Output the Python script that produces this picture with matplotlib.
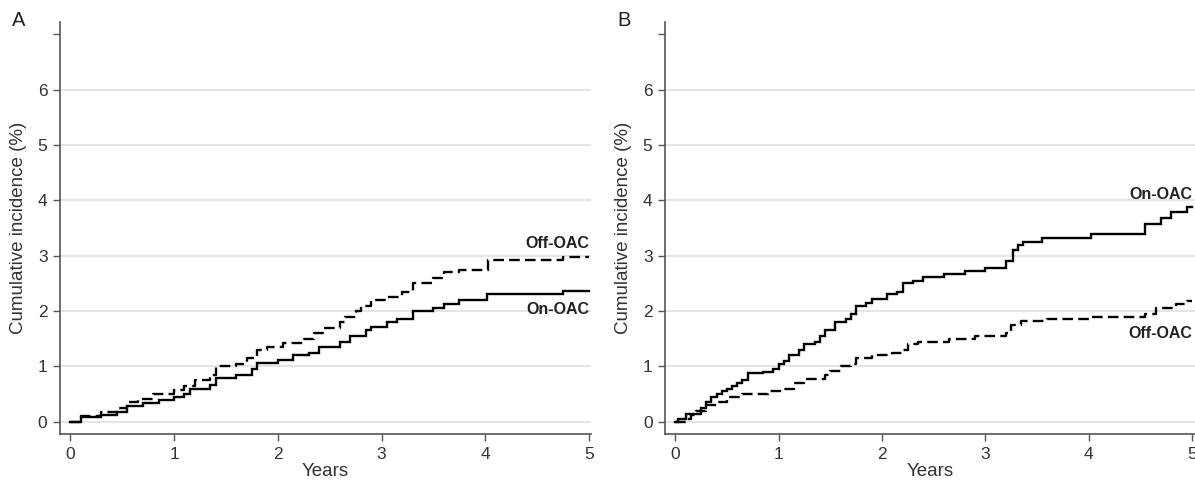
import matplotlib.pyplot as plt
import numpy as np

plt.rcParams['font.family'] = ['Liberation Sans', 'DejaVu Sans']

# Panel A step points (years, cumulative incidence %)
a_on_t = [0, 0.1, 0.3, 0.45, 0.55, 0.7, 0.85, 1.0, 1.1, 1.15, 1.35, 1.4, 1.6, 1.75, 1.8,
          2.0, 2.15, 2.3, 2.4, 2.6, 2.7, 2.85, 2.9, 3.05, 3.15, 3.3, 3.5, 3.6, 3.75, 4.02, 4.75, 5.0]
a_on_y = [0, 0.08, 0.13, 0.18, 0.28, 0.34, 0.39, 0.44, 0.5, 0.6, 0.66, 0.8, 0.85, 0.95, 1.07,
          1.12, 1.2, 1.25, 1.35, 1.45, 1.55, 1.65, 1.72, 1.8, 1.85, 2.0, 2.05, 2.12, 2.2, 2.3, 2.37, 2.37]
a_off_t = [0, 0.1, 0.3, 0.45, 0.55, 0.65, 0.8, 1.0, 1.1, 1.2, 1.35, 1.4, 1.6, 1.7, 1.8, 1.9,
           2.05, 2.25, 2.35, 2.45, 2.6, 2.65, 2.75, 2.8, 2.9, 3.05, 3.2, 3.3, 3.5, 3.6, 3.75, 4.03, 4.75, 5.0]
a_off_y = [0, 0.1, 0.18, 0.25, 0.35, 0.42, 0.5, 0.57, 0.65, 0.75, 0.85, 1.0, 1.05, 1.15, 1.3, 1.35,
           1.43, 1.5, 1.6, 1.7, 1.8, 1.9, 2.0, 2.1, 2.2, 2.25, 2.35, 2.5, 2.6, 2.7, 2.75, 2.92, 2.98, 2.98]

# Panel B step points
b_on_t = [0, 0.03, 0.1, 0.25, 0.3, 0.35, 0.4, 0.45, 0.5, 0.55, 0.6, 0.65, 0.7, 0.85, 0.95, 1.0,
          1.05, 1.1, 1.2, 1.25, 1.35, 1.4, 1.45, 1.55, 1.65, 1.7, 1.75, 1.85, 1.9, 2.05, 2.15, 2.2,
          2.3, 2.4, 2.6, 2.8, 3.0, 3.2, 3.27, 3.32, 3.37, 3.55, 4.02, 4.55, 4.7, 4.8, 4.95, 5.0]
b_on_y = [0, 0.05, 0.15, 0.25, 0.35, 0.45, 0.5, 0.55, 0.6, 0.65, 0.7, 0.75, 0.88, 0.9, 0.95, 1.05,
          1.1, 1.2, 1.3, 1.4, 1.45, 1.55, 1.65, 1.8, 1.85, 1.95, 2.1, 2.15, 2.22, 2.3, 2.35, 2.5,
          2.55, 2.62, 2.67, 2.72, 2.78, 2.9, 3.1, 3.2, 3.25, 3.32, 3.4, 3.58, 3.68, 3.78, 3.88, 3.88]
b_off_t = [0, 0.1, 0.15, 0.2, 0.3, 0.4, 0.5, 0.65, 0.9, 1.05, 1.15, 1.25, 1.45, 1.5, 1.6, 1.7,
           1.75, 1.9, 2.1, 2.2, 2.25, 2.35, 2.65, 2.9, 3.2, 3.25, 3.35, 3.6, 4.0, 4.55, 4.65, 4.85, 4.95, 5.0]
b_off_y = [0, 0.05, 0.12, 0.2, 0.3, 0.35, 0.45, 0.5, 0.55, 0.6, 0.7, 0.78, 0.85, 0.92, 1.0, 1.05,
           1.15, 1.2, 1.25, 1.3, 1.4, 1.45, 1.5, 1.55, 1.6, 1.75, 1.82, 1.86, 1.9, 1.95, 2.05, 2.12, 2.18, 2.18]

panels = [
    ('A', a_on_t, a_on_y, a_off_t, a_off_y, ('Off-OAC', 3.22), ('On-OAC', 2.03)),
    ('B', b_on_t, b_on_y, b_off_t, b_off_y, ('On-OAC', 4.1), ('Off-OAC', 1.6)),
]

fig = plt.figure(figsize=(11.95, 4.86), dpi=100)
W, H = 1195, 486
axes_px = [(60, 591), (665, 1195)]

for (letter, on_t, on_y, off_t, off_y, lab1, lab2), (x0, x1) in zip(panels, axes_px):
    ax = fig.add_axes([x0 / W, (H - 434) / H, (x1 - x0) / W, (434 - 22) / H])
    ax.set_xlim(-0.1, 5.02 if letter == 'A' else 5.03)
    ax.set_ylim(-0.22, 7.22)
    for v in range(7):
        ax.axhline(v, color='#e3e3e3', lw=1.3, zorder=0)
    ax.step(on_t, on_y, where='post', color='black', lw=1.7, solid_joinstyle='miter')
    ax.step(off_t, off_y, where='post', color='black', lw=1.7, linestyle=(0, (4.5, 2.2)))
    ax.set_xticks(range(6))
    ax.set_yticks(range(8))
    ax.set_yticklabels([str(v) for v in range(7)] + [''])
    ax.tick_params(direction='out', length=5, width=1, color='#555555',
                   labelsize=12.5, labelcolor='#333333', pad=4)
    for s in ['top', 'right']:
        ax.spines[s].set_visible(False)
    for s in ['left', 'bottom']:
        ax.spines[s].set_color('#555555')
        ax.spines[s].set_linewidth(1.2)
    ax.set_xlabel('Years', fontsize=13.5, color='#333333', labelpad=1)
    ax.set_ylabel('Cumulative incidence (%)', fontsize=13.5, color='#333333', labelpad=8)
    for txt, yv in (lab1, lab2):
        ax.text(5.0, yv, txt, ha='right', va='center', fontsize=11.5, fontweight='bold',
                color='#222222')
    fig.text((x0 - 48) / W, (H - 20) / H, letter, fontsize=14.5, color='#222222', va='center')

fig.savefig('out.png', dpi=100)
